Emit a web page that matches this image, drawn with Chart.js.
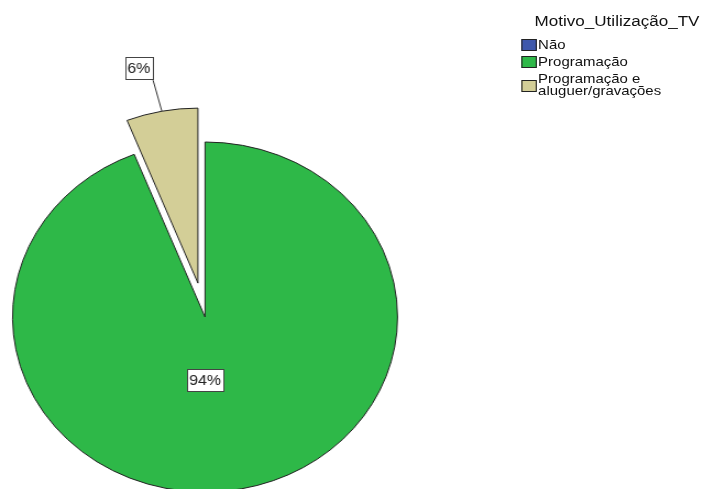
<!DOCTYPE html>
<html>
<head>
<meta charset="utf-8">
<script src="https://cdn.jsdelivr.net/npm/chart.js@4.4.1/dist/chart.umd.min.js"></script>
<style>
  html, body { margin: 0; padding: 0; background: #fff; }
  body { width: 705px; height: 489px; overflow: hidden; }
  #wrap { position: absolute; left: 0; top: 0; width: 641px; height: 489px; transform: scaleX(1.1); transform-origin: 0 0; }
  #c { position: absolute; left: 0; top: 0; }
  #legend { position: absolute; left: 0; top: 0; font-family: "Liberation Sans", Arial, sans-serif; color: #111; }
  #legend .title { position: absolute; left: 486px; top: 12.1px; font-size: 15.5px; line-height: 18px; white-space: nowrap; }
  #legend .txt { position: absolute; left: 489.2px; font-size: 13.6px; white-space: nowrap; }
  #legend .sw { position: absolute; left: 473.7px; width: 14px; height: 12px; border: 1px solid #222; box-sizing: border-box; }
</style>
</head>
<body>
<div id="wrap">
  <canvas id="c" width="641" height="489"></canvas>
  <div id="legend"></div>
</div>
<script>
const legendTitle = 'Motivo_Utilização_TV';
const categories = ['Não', 'Programação', 'Programação e aluguer/gravações'];
const legendLines = [['Não'], ['Programação'], ['Programação e', 'aluguer/gravações']];
const percentages = [0, 94, 6];
const sliceColors = ['#3E58AC', '#2EB848', '#D3CE97'];
const explodeIndex = 2;

// Legend (HTML text); layout only
const legendTextTop = [38.3, 54.8, 73.1];
const legendLineHeight = [14, 14, 12.3];
const legendSwatchTop = [38.8, 55.8, 80];
const lg = document.getElementById('legend');
const t = document.createElement('div');
t.className = 'title';
t.textContent = legendTitle;
lg.appendChild(t);
legendLines.forEach((lines, i) => {
  const tx = document.createElement('div');
  tx.className = 'txt';
  tx.style.top = legendTextTop[i] + 'px';
  tx.style.lineHeight = legendLineHeight[i] + 'px';
  lines.forEach((ln, j) => {
    if (j) tx.appendChild(document.createElement('br'));
    tx.appendChild(document.createTextNode(ln));
  });
  lg.appendChild(tx);
  const sw = document.createElement('div');
  sw.className = 'sw';
  sw.style.background = sliceColors[i];
  sw.style.top = legendSwatchTop[i] + 'px';
  lg.appendChild(sw);
});

const explodePlugin = {
  id: 'explode',
  afterDatasetsUpdate(chart) {
    const meta = chart.getDatasetMeta(0);
    const el = meta.data[explodeIndex];
    const mid = (el.startAngle + el.endAngle) / 2;
    el.x += Math.cos(mid) * 34.5;
    el.y += Math.sin(mid) * 34.5;
  }
};

function drawBox(ctx, cx, cy, text) {
  ctx.font = '14.5px "Liberation Sans", Arial, sans-serif';
  const w = Math.round(ctx.measureText(text).width + 4);
  const h = 22;
  const x = Math.round(cx - w / 2) + 0.5, y = Math.round(cy - h / 2) + 0.5;
  ctx.fillStyle = '#fff';
  ctx.fillRect(x, y, w, h);
  ctx.strokeStyle = '#444';
  ctx.lineWidth = 1;
  ctx.strokeRect(x, y, w, h);
  ctx.fillStyle = '#222';
  ctx.textAlign = 'center';
  ctx.textBaseline = 'middle';
  ctx.fillText(text, cx, cy + 1);
}

const labelPlugin = {
  id: 'labels',
  afterDatasetsDraw(chart) {
    const ctx = chart.ctx;
    const meta = chart.getDatasetMeta(0);
    ctx.save();
    const g = meta.data[1];
    drawBox(ctx, g.x, g.y + g.outerRadius * 0.36, percentages[1] + '%');
    const e = meta.data[explodeIndex];
    const mid = (e.startAngle + e.endAngle) / 2;
    const ax = e.x + Math.cos(mid) * e.outerRadius;
    const ay = e.y + Math.sin(mid) * e.outerRadius;
    ctx.strokeStyle = '#333';
    ctx.lineWidth = 1;
    ctx.beginPath();
    ctx.moveTo(ax, ay);
    ctx.lineTo(ax - 8, ay - 31);
    ctx.stroke();
    drawBox(ctx, ax - 21, ay - 43, percentages[explodeIndex] + '%');
    ctx.restore();
  }
};

new Chart(document.getElementById('c'), {
  type: 'pie',
  data: {
    labels: categories,
    datasets: [{
      data: percentages,
      backgroundColor: sliceColors,
      borderColor: '#222',
      borderWidth: 1,
      radius: 175,
      clip: false
    }]
  },
  options: {
    responsive: false,
    animation: false,
    events: [],
    layout: { padding: { left: 0, right: 268.2, top: 145, bottom: 0 } },
    plugins: { legend: { display: false }, tooltip: { enabled: false } }
  },
  plugins: [explodePlugin, labelPlugin]
});
</script>
</body>
</html>
